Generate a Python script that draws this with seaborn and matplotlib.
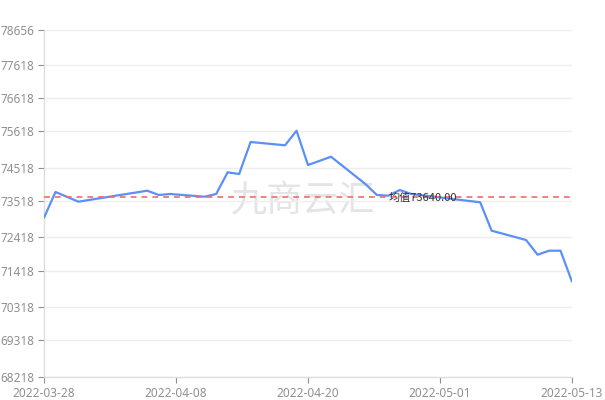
import numpy as np
import pandas as pd
import matplotlib
matplotlib.use("Agg")
import matplotlib.pyplot as plt
import seaborn as sns

# Data
dates = ["2022-03-28", "2022-03-29", "2022-03-30", "2022-03-31", "2022-04-01",
         "2022-04-06", "2022-04-07", "2022-04-08", "2022-04-11", "2022-04-12",
         "2022-04-13", "2022-04-14", "2022-04-15", "2022-04-18", "2022-04-19",
         "2022-04-20", "2022-04-21", "2022-04-22", "2022-04-25", "2022-04-26",
         "2022-04-27", "2022-04-28", "2022-04-29", "2022-05-05", "2022-05-06",
         "2022-05-09", "2022-05-10", "2022-05-11", "2022-05-12", "2022-05-13"]
prices = [73010, 73783, 73638, 73491, 73548,
          73822, 73693, 73723, 73641, 73723,
          74375, 74324, 75287, 75188, 75627,
          74595, 74718, 74845, 74023, 73693,
          73672, 73843, 73723, 73473, 72619,
          72339, 71897, 72017, 72017, 71085]
mean_value = 73640.00
y_ticks = [68218, 69318, 70318, 71418, 72418, 73518, 74518, 75618, 76618, 77618, 78656]
x_tick_labels = ["2022-03-28", "2022-04-08", "2022-04-20", "2022-05-01", "2022-05-13"]

df = pd.DataFrame({"date": pd.to_datetime(dates), "price": prices})
start = df["date"].min()
df["day"] = (df["date"] - start).dt.days

sns.set_style("white")
plt.rcParams['font.family'] = ['Noto Sans', 'Noto Sans CJK SC', 'DejaVu Sans']

fig = plt.figure(figsize=(6.05, 4.0), dpi=100)
ax = fig.add_axes([44 / 605, 23 / 400, 528 / 605, 347 / 400])

# watermark
ax.text(0.49, 0.51, "九商云汇", transform=ax.transAxes, ha="center", va="center",
        fontsize=26, color="#e4e4e4", family=['Noto Sans CJK SC'], zorder=0)

sns.lineplot(data=df, x="day", y="price", ax=ax, color="#5b8ff9", linewidth=1.6, zorder=3)

# average line with its label
ax.axhline(mean_value, color="#f46a6a", linestyle=(0, (3.5, 3)), linewidth=1.2, zorder=4)
ax.text(30.0, mean_value - 20, f"均值{mean_value:.2f}", ha="left", va="center",
        fontsize=8, color="#333333", family=['Noto Sans CJK SC', 'DejaVu Sans'], zorder=5)

last_day = df["day"].max()
ax.set_xlim(0, last_day)
ax.set_ylim(y_ticks[0], y_ticks[-1])
ax.set_yticks(y_ticks)
ax.set_yticklabels([str(v) for v in y_ticks])
ax.set_xticks(np.linspace(0, last_day, len(x_tick_labels)))
ax.set_xticklabels(x_tick_labels)

ax.grid(axis="y", color="#eeeeee", linewidth=1)
ax.grid(axis="x", visible=False)
for side in ["top", "right"]:
    ax.spines[side].set_visible(False)
for side in ["left", "bottom"]:
    ax.spines[side].set_color("#dddddd")
    ax.spines[side].set_linewidth(1)

ax.tick_params(axis="both", colors="#909090", labelsize=8.5, length=4, width=0.8,
               direction="out", bottom=True, left=True)
ax.tick_params(axis="y", pad=3)
ax.tick_params(axis="x", pad=3)
ax.set_xlabel("")
ax.set_ylabel("")

fig.savefig("out.png", dpi=100)
